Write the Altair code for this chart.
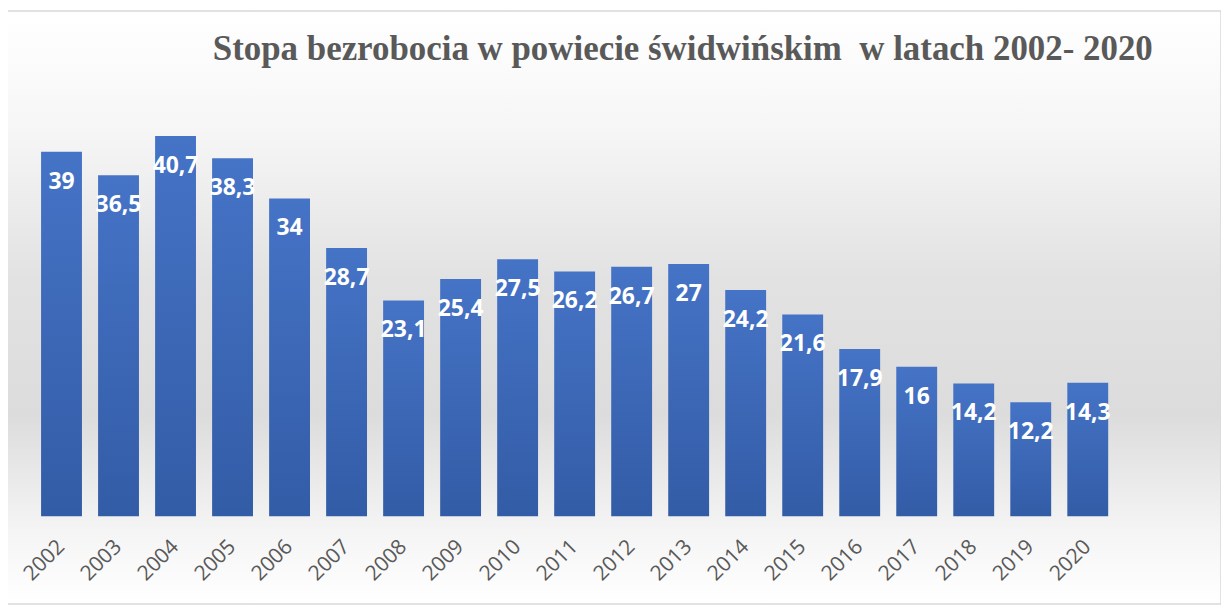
import altair as alt
import pandas as pd

years = [str(y) for y in range(2002, 2021)]
rates = [39, 36.5, 40.7, 38.3, 34, 28.7, 23.1, 25.4, 27.5, 26.2, 26.7, 27, 24.2, 21.6, 17.9, 16, 14.2, 12.2, 14.3]
title_text = "Stopa bezrobocia w powiecie świdwińskim\u00a0 w latach 2002- 2020"

df = pd.DataFrame({"year": years, "rate": rates})

W, H = 1087, 422
PAD = {"left": 25, "top": 87, "right": 105, "bottom": 95}

one = pd.DataFrame({"t": [title_text]})

bg = alt.Chart(one).mark_rect(
    color=alt.Gradient(
        gradient="linear", x1=0, y1=0, x2=0, y2=1,
        stops=[
            alt.GradientStop(color="#ffffff", offset=0),
            alt.GradientStop(color="#f6f6f6", offset=0.2),
            alt.GradientStop(color="#e2e2e2", offset=0.45),
            alt.GradientStop(color="#dcdcdc", offset=0.68),
            alt.GradientStop(color="#f5f5f5", offset=0.88),
            alt.GradientStop(color="#ffffff", offset=1),
        ],
    ),
    stroke="#d9d9d9", strokeWidth=1.5, clip=False,
).encode(
    x=alt.value(-28), x2=alt.value(1192), y=alt.value(-85), y2=alt.value(510)
)

title = alt.Chart(one).mark_text(
    font="Liberation Serif", fontSize=35, fontWeight="bold", color="#595959",
    align="center", baseline="alphabetic",
).encode(x=alt.value(652), y=alt.value(-36), text="t:N")

xenc = alt.X(
    "year:N",
    sort=years,
    scale=alt.Scale(paddingInner=0.283, paddingOuter=0.143),
    axis=alt.Axis(
        title=None, labelAngle=-45, labelAlign="right", labelBaseline="middle",
        labelFont="Open Sans", labelFontSize=21, labelColor="#595959",
        labelPadding=27, domain=False, ticks=False, grid=False, zindex=1,
    ),
)
yscale = alt.Scale(domain=[0, 45], nice=False, zero=True)

bars = alt.Chart(df).mark_bar(
    color=alt.Gradient(
        gradient="linear", x1=0, y1=0, x2=0, y2=1,
        stops=[
            alt.GradientStop(color="#4573c6", offset=0),
            alt.GradientStop(color="#335ca6", offset=1),
        ],
    )
).encode(
    x=xenc,
    y=alt.Y("rate:Q", scale=yscale, axis=None),
)

labels = alt.Chart(df).transform_calculate(
    lab="replace(toString(datum.rate), '.', ',')"
).mark_text(
    font="Open Sans", fontSize=23, fontWeight="bold", color="white",
    baseline="middle", align="center", dy=30,
).encode(
    x=alt.X("year:N", sort=years),
    y=alt.Y("rate:Q", scale=yscale),
    text="lab:N",
)

chart = alt.layer(bg, title, bars, labels).properties(
    width=W, height=H,
    padding=PAD,
    autosize=alt.AutoSizeParams(type="none"),
).configure_view(stroke=None).configure(background="white")

chart.save("out.html", embed_options={"renderer": "svg", "actions": False})
